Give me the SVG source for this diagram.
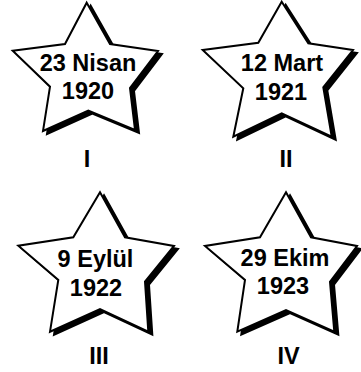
<svg xmlns="http://www.w3.org/2000/svg" width="361" height="372" viewBox="0 0 361 372">
<style>
.bg{fill:#fff}
.sh{fill:#000;stroke:#000;stroke-width:2;stroke-linejoin:miter}
.st{fill:#fff;stroke:#000;stroke-width:2;stroke-linejoin:miter}
.t{font-family:"Liberation Sans",Arial,Helvetica,sans-serif;font-weight:bold;font-size:23.5px;fill:#000;text-anchor:middle}
</style>
<rect class="bg" x="0" y="0" width="361" height="372"/>
<g id="star1">
<polygon class="sh" transform="translate(4,3)" points="86.7,2.7 110,44 158,51 130,88 135,130 88.3,110.7 43,131 50,86.7 12.7,50.7 65,44"/>
<polygon class="st" points="86.7,2.7 110,44 158,51 130,88 135,130 88.3,110.7 43,131 50,86.7 12.7,50.7 65,44"/>
<text class="t" x="88" y="70.5">23 Nisan</text>
<text class="t" x="88" y="99">1920</text>
<text class="t" x="87" y="167">I</text>
</g>
<g id="star2">
<polygon class="sh" transform="translate(4,3)" points="281.7,1.7 308.3,43.3 353,50 323.3,87.3 331.7,136.7 281.7,113.3 233.3,136.7 243.3,88.3 202.7,50 258.3,42.7"/>
<polygon class="st" points="281.7,1.7 308.3,43.3 353,50 323.3,87.3 331.7,136.7 281.7,113.3 233.3,136.7 243.3,88.3 202.7,50 258.3,42.7"/>
<text class="t" x="282" y="71">12 Mart</text>
<text class="t" x="281" y="99.5">1921</text>
<text class="t" x="286" y="167">II</text>
</g>
<g id="star3">
<polygon class="sh" transform="translate(4,3)" points="100,192.3 125,237.3 174,246 145,281.7 148.3,331.7 100,309 50,331.7 58.3,280 18.3,245.7 73.3,237.3"/>
<polygon class="st" points="100,192.3 125,237.3 174,246 145,281.7 148.3,331.7 100,309 50,331.7 58.3,280 18.3,245.7 73.3,237.3"/>
<text class="t" x="95.5" y="267">9 Eylül</text>
<text class="t" x="96" y="295.5">1922</text>
<text class="t" x="99" y="364">III</text>
</g>
<g id="star4">
<polygon class="sh" transform="translate(4,3)" points="286,192.3 311,237.3 357,246 330,281.7 334.3,331.7 286,310 237.3,331.7 245,280 205,246 260,237.3"/>
<polygon class="st" points="286,192.3 311,237.3 357,246 330,281.7 334.3,331.7 286,310 237.3,331.7 245,280 205,246 260,237.3"/>
<text class="t" x="285" y="265.5">29 Ekim</text>
<text class="t" x="283" y="294">1923</text>
<text class="t" x="288.5" y="364">IV</text>
</g>
<g id="connectors"/>
</svg>
